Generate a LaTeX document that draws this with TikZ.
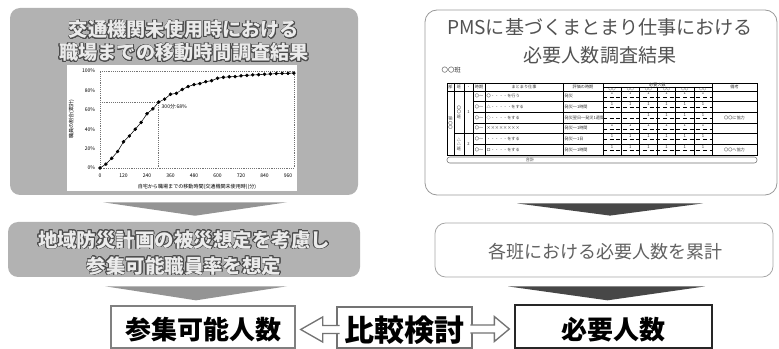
\documentclass[tikz,border=0pt]{standalone}
\usepackage{fontspec}
\usepackage{contour}
\newfontfamily\jp{Noto Sans CJK JP}
\usetikzlibrary{calc,fit}
\contourlength{0.5pt}

\tikzset{
  graybox/.style={fill=black!30, rounded corners=7.5pt, inner sep=0pt},
  whitebox/.style={draw=black!40, fill=white, rounded corners=9pt, line width=0.6pt, inner sep=0pt},
  resbox/.style={draw=black!55, fill=white, line width=1pt, inner sep=0pt},
  embossed/.style={text=black!8, align=center, font=\jp\bfseries\fontsize{14.4}{17.3}\selectfont},
  bigtext/.style={font=\jp\bfseries\fontsize{19.5}{22}\selectfont},
  lightarrow/.style={fill=black!42},
  darkarrow/.style={fill=black!72},
  hollow/.style={draw=black!55, line width=1pt, line join=miter},
  ticktext/.style={font=\jp\fontsize{3.8}{4.5}\selectfont, inner sep=0.5pt},
  tabtext/.style={font=\jp\fontsize{3.1}{3.6}\selectfont, inner sep=0.3pt, text=black!80}
}

\begin{document}
\begin{tikzpicture}[x=0.75pt,y=-0.75pt]
  \useasboundingbox (0,0) rectangle (779,349);

  % left column
  \node[graybox, fit={(10,8) (358,195)}] (topL) {};
  \node[embossed] (topLtitle) at (184,41.5)
    {\contour{black!70}{交通機関未使用時における}\\\contour{black!70}{職場までの移動時間調査結果}};
  \node[fill=white, inner sep=0pt, fit={(67,65) (297,191)}] (chart) {};
  \begin{scope}[shift={(100,168)}, x=0.1469pt, y=0.7275pt]
    \draw[black!55, densely dotted, line width=0.4pt] (0,0) rectangle (990,100);
    \draw[black!55, densely dotted, line width=0.4pt] (0,68) -- (300,68) -- (300,0);
    \foreach \p in {0,20,...,100}
      \node[ticktext, anchor=east] (yl\p) at (-20,\p) {\p\%};
    \foreach \m in {0,120,...,960}
      \node[ticktext, anchor=north] (xl\m) at (\m,-5) {\m};
    \node[ticktext] (xtitle) at (495,-19.5) {自宅から職場までの移動時間(交通機関未使用時)(分)};
    \node[ticktext, rotate=90] (ytitle) at (-145,50) {職員の割合(累計)};
    \draw[line width=0.4pt, mark=*, mark size=1.1pt] plot coordinates {
      (0,0) (30,4) (60,10) (90,17) (120,27) (150,33) (180,40) (210,47)
      (240,56) (270,61) (300,68) (330,71) (360,76) (390,77) (420,81)
      (450,84) (480,86) (510,87) (540,89) (570,90) (600,92.5) (630,93.5)
      (660,94) (690,94.2) (720,95) (750,95.5) (780,96) (810,96.2)
      (840,96.6) (870,97) (900,97.3) (930,97.6) (960,97.6) (990,97.8)};
    \node[ticktext, anchor=west] (mark68) at (310,63) {300分:68\%};
  \end{scope}

  \node[graybox, fit={(8,222) (360,277)}] (midL) {};
  \node[embossed, font=\jp\bfseries\fontsize{14.6}{19.5}\selectfont] (midLtxt) at (184,253)
    {\contour{black!70}{地域防災計画の被災想定を考慮し}\\\contour{black!70}{参集可能職員率を想定}};

  \node[resbox, draw=black!50, fit={(111,306) (295,348)}] (botL) {};
  \node[bigtext] (botLtxt) at ($(botL.center)+(0,3)$) {参集可能人数};

  \fill[lightarrow] ($(topL.south)+(-81,7)$) -- ($(topL.south)+(103,7)$) -- ($(midL.north)+(11,-6)$) -- cycle;
  \fill[lightarrow] ($(midL.south)+(-79,9)$) -- ($(midL.south)+(103,9)$) -- ($(botL.north)+(-7,-5)$) -- cycle;

  % right column
  \node[whitebox, fit={(425,10) (777,195)}] (topR) {};
  \node[align=center, text=black!68, font=\jp\fontsize{14.3}{21}\selectfont] (topRtitle) at (600,41)
    {PMSに基づくまとまり仕事における\\必要人数調査結果};
  \node[tabtext, font=\jp\fontsize{4.8}{5.5}\selectfont, anchor=west] (team) at (441,70) {〇〇班};

  % table
  \draw[line width=0.7pt] (447,83) rectangle (757,155);
  \draw[line width=0.5pt] (447,91) -- (757,91);
  \foreach \x in {454,464,473,485,563,603,712}
    \draw[line width=0.4pt] (\x,83) -- (\x,155);
  \draw[line width=0.3pt] (603,87) -- (712,87);
  \foreach \j in {1,...,5}
    \draw[line width=0.3pt] ({603+\j*18.17},87) -- ({603+\j*18.17},155);
  \foreach \k in {1,2,3,5}
    \draw[line width=0.3pt] (473,{91+\k*10.67}) -- (757,{91+\k*10.67});
  \draw[line width=0.4pt] (454,133.7) -- (757,133.7);
  \foreach \k in {0,...,5}
    \draw[line width=0.3pt, densely dashed] (603,{91+(\k+0.55)*10.67}) -- (712,{91+(\k+0.55)*10.67});

  \node[tabtext] (h1) at (450.5,87) {部};
  \node[tabtext] (h2) at (459,87) {班};
  \node[tabtext] (h3) at (468.5,87) {・};
  \node[tabtext] (h4) at (479,87) {時期};
  \node[tabtext] (h5) at (524,87) {まとまり仕事};
  \node[tabtext] (h6) at (583,87) {評価の時期};
  \node[tabtext] (h7) at (657.5,85) {必要人数};
  \foreach \j in {1,...,6}
    \node[tabtext, font=\jp\fontsize{2.6}{3}\selectfont] (hs\j) at ({603+(\j-0.5)*18.17},89) {〇〇};
  \node[tabtext] (h8) at (734.5,87) {備考};

  \node[tabtext, rotate=90] (dept) at (450.5,123) {〇〇部};
  \node[tabtext, align=center] (grp1) at (459,112.3) {〇\\〇\\班};
  \node[tabtext, align=center] (grp2) at (459,144.3) {△\\△\\班};
  \node[tabtext] (no1) at (468.5,112.3) {1};
  \node[tabtext] (no2) at (468.5,144.3) {2};
  \foreach \t [count=\k] in {〇・・・・を行う,△・・・・・をする,◇・・・・をする,××××××××,・・・・・をする,ロ・・・・をする}
    \node[tabtext, anchor=west] (job\k) at (486,{91+(\k-0.5)*10.67}) {\t};
  \foreach \t [count=\k] in {発災,発災〜1時間,発災翌日〜発災1週間,発災〜1時間,発災〜1日,発災〜1時間}
    \node[tabtext, anchor=west] (when\k) at (564,{91+(\k-0.5)*10.67}) {\t};
  \foreach \k in {1,...,6}
    \node[tabtext] (per\k) at (479,{91+(\k-0.5)*10.67}) {〇〜};
  \foreach \k in {1,2,4,5,6}
    \foreach \j in {1,...,6}
      \node[tabtext] (n\k\j) at ({603+(\j-0.5)*18.17},{91+(\k-0.78)*10.67}) {1};
  \foreach \j in {3,...,6}
    \node[tabtext] (n3\j) at ({603+(\j-0.5)*18.17},{91+(3-0.78)*10.67}) {1};
  \node[tabtext] (note3) at (734.5,117.6) {〇〇に協力};
  \node[tabtext] (note6) at (734.5,149.7) {〇〇へ協力};
  \node[draw=black!55, rounded corners=2pt, inner sep=0pt, fit={(447,157) (757,163)}] (total) {};
  \node[tabtext] (totlbl) at (530,160) {合計};

  \node[whitebox, draw=black!35, rounded corners=8pt, fit={(435,223) (773,277)}] (midR) {};
  \node[text=black!62, font=\jp\fontsize{13.5}{16}\selectfont] (midRtxt) at (605,252) {各班における必要人数を累計};

  \node[resbox, draw=black!85, fit={(515,305) (712,348)}] (botR) {};
  \node[bigtext] (botRtxt) at ($(botR.center)+(0,3)$) {必要人数};

  \fill[darkarrow] ($(topR.south)+(-84,8)$) -- ($(topR.south)+(102,8)$) -- ($(midR.north)+(6,-7)$) -- cycle;
  \fill[darkarrow] ($(midR.south)+(-96,9)$) -- ($(midR.south)+(101,9)$) -- ($(botR.north)+(-6,-4)$) -- cycle;

  % comparison
  \node[resbox, fit={(337,307) (472,348)}] (cmp) {};
  \node[font=\jp\bfseries\fontsize{22.5}{25}\selectfont] (cmptxt) at ($(cmp.center)+(0,3)$) {比較検討};
  \coordinate (lt) at ($(botL.east)+(5,2.5)$);
  \coordinate (rt) at ($(botR.west)+(-5,2.5)$);
  \fill[white] (lt) -- ++(22,-12.5) -- ++(0,8.5) -- ++(17,0) -- ++(0,8) -- ++(-17,0) -- ++(0,8.5) -- cycle;
  \draw[hollow] ($(lt)+(39,-4)$) -- ++(-17,0) -- ++(0,-8.5) -- (lt) -- ++(22,12.5) -- ++(0,-8.5) -- ++(17,0);
  \fill[white] (rt) -- ++(-15,-12.5) -- ++(0,8.5) -- ++(-24,0) -- ++(0,8) -- ++(24,0) -- ++(0,8.5) -- cycle;
  \draw[hollow] ($(rt)+(-39,-4)$) -- ++(24,0) -- ++(0,-8.5) -- (rt) -- ++(-15,12.5) -- ++(0,-8.5) -- ++(-24,0);
\end{tikzpicture}
\end{document}
